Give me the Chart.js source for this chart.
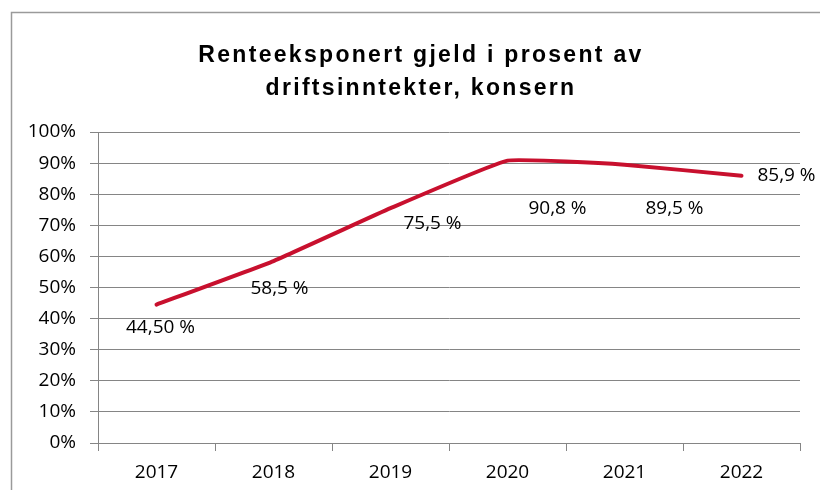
<!DOCTYPE html>
<html lang="no">
<head>
  <meta charset="UTF-8" />
  <title>Renteeksponert gjeld</title>
  <script src="https://cdn.jsdelivr.net/npm/chart.js"></script>
  <style>
    html, body { margin: 0; padding: 0; background: #fff; }
    #wrap { width: 820px; height: 490px; position: relative; }
  </style>
</head>
<body>
  <div id="wrap"><canvas id="debtChart" width="820" height="490"></canvas></div>

  <script>
    // data
    const years = ['2017', '2018', '2019', '2020', '2021', '2022'];
    const debtShare = [44.5, 58.5, 75.5, 90.8, 89.5, 85.9];
    const debtLabels = ['44,50 %', '58,5 %', '75,5 %', '90,8 %', '89,5 %', '85,9 %'];
    const titleLines = ['Renteeksponert gjeld i prosent av', 'driftsinntekter, konsern'];

    const tickFont = { family: "'Open Sans', sans-serif", size: 19 };
    const gridGrey = '#858585';

    // frame, title and value labels
    const decorations = {
      id: 'decorations',
      beforeDraw(chart) {
        const ctx = chart.ctx;
        ctx.save();
        ctx.strokeStyle = '#9a9a9a';
        ctx.lineWidth = 1.5;
        ctx.strokeRect(11.5, 12.5, 840, 500);
        ctx.restore();
      },
      afterDraw(chart, args, opts) {
        const ctx = chart.ctx;
        ctx.save();
        ctx.fillStyle = '#000';
        ctx.textAlign = 'center';
        ctx.textBaseline = 'alphabetic';
        ctx.font = "bold 23px 'Liberation Sans', Arial, sans-serif";
        ctx.letterSpacing = '2.3px';
        titleLines.forEach((t, i) => ctx.fillText(t, 421, 62 + i * 33));

        ctx.letterSpacing = '0px';
        ctx.font = "19px 'Open Sans', sans-serif";
        ctx.textBaseline = 'middle';
        const meta = chart.getDatasetMeta(0);
        meta.data.forEach((pt, i) => {
          const off = opts.offsets[i];
          ctx.fillText(debtLabels[i], pt.x + off[0], pt.y + off[1]);
        });
        ctx.restore();
      }
    };

    new Chart(document.getElementById('debtChart'), {
      type: 'line',
      data: {
        labels: years,
        datasets: [{
          data: debtShare,
          borderColor: '#c8102e',
          borderWidth: 4,
          borderCapStyle: 'round',
          pointRadius: 0,
          tension: 0.1,
          fill: false
        }]
      },
      options: {
        responsive: false,
        animation: false,
        layout: { padding: { top: 132, right: 20, bottom: 0, left: 0 } },
        plugins: {
          legend: { display: false },
          title: { display: false },
          tooltip: { enabled: false },
          decorations: {
            offsets: [[4, 23], [6, 28], [42, 15], [50, 48], [50, 44], [45, 0]]
          }
        },
        scales: {
          x: {
            offset: true,
            afterFit(scale) { scale.height = 47; },
            grid: { drawOnChartArea: false, offset: true, tickLength: 8, color: gridGrey },
            border: { color: gridGrey },
            ticks: { color: '#000', font: tickFont, padding: 10 }
          },
          y: {
            min: 0,
            max: 100,
            afterFit(scale) { scale.width = 98; },
            grid: { tickLength: 8, color: gridGrey },
            border: { color: gridGrey },
            ticks: {
              stepSize: 10,
              color: '#000',
              font: tickFont,
              padding: 14,
              callback: v => v + '%'
            }
          }
        }
      },
      plugins: [decorations]
    });
  </script>
</body>
</html>
